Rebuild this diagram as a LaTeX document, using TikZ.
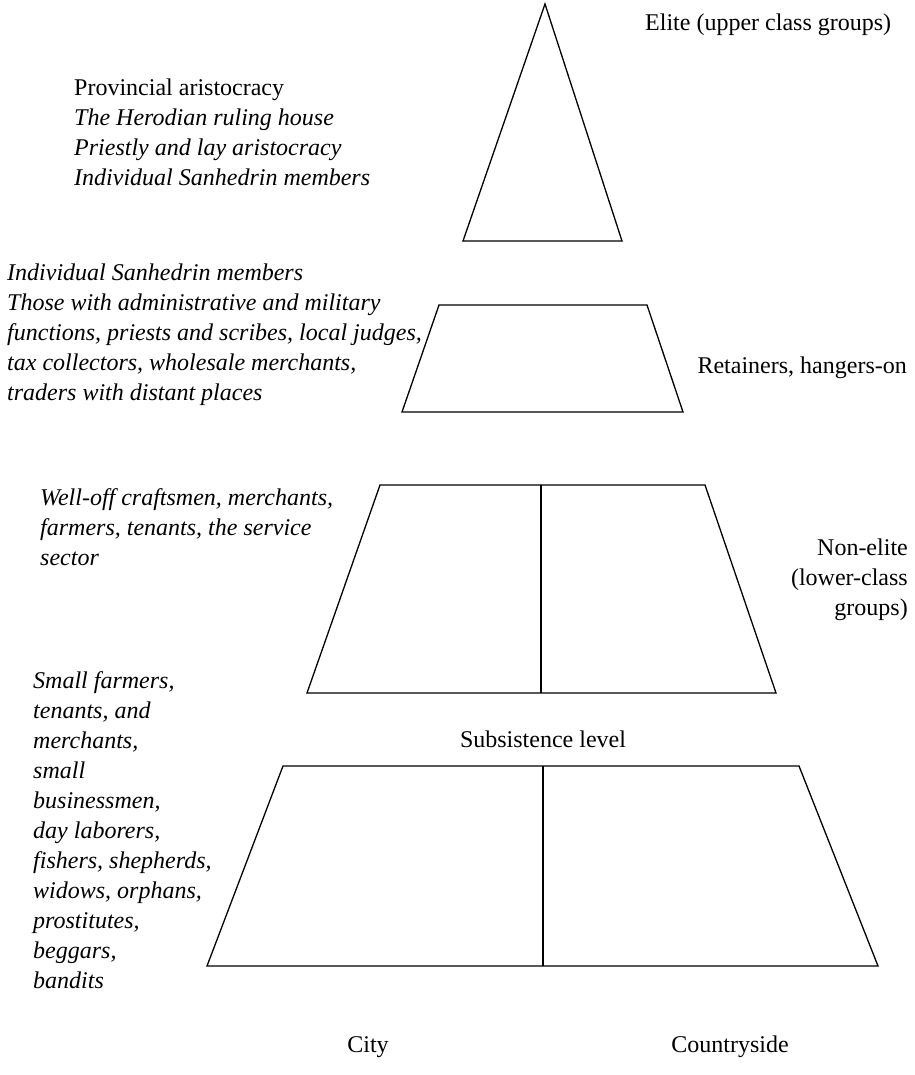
\documentclass[tikz,border=0pt]{standalone}
\usepackage{fontspec}
\setmainfont{Liberation Serif}
\begin{document}
\begin{tikzpicture}[x=1pt,y=-1pt,
  shape line/.style={draw=black,line width=1.3pt,line join=miter},
  label text/.style={font=\fontsize{24}{30}\selectfont,inner sep=0pt,align=left},
  group text/.style={font=\fontsize{24}{30}\selectfont\itshape,inner sep=0pt,align=left}]
\useasboundingbox (0,0) rectangle (914,1075);

% the four tiers of the pyramid
\draw[shape line] (545,4) -- (622,241) -- (463,241) -- cycle;
\draw[shape line] (439,305) -- (647,305) -- (683,412) -- (402,412) -- cycle;
\draw[shape line] (380,485) -- (705,485) -- (776,693) -- (307,693) -- cycle;
\draw[shape line] (541,485) -- (541,693);
\draw[shape line] (283,766) -- (799,766) -- (878,966) -- (207,966) -- cycle;
\draw[shape line] (543,766) -- (543,966);

% tier labels on the right
\node[label text,anchor=north west] (elite) at (645,14) {Elite (upper class groups)};
\node[label text,anchor=east] (retain) at (907,368) {Retainers, hangers-on};
\node[label text,anchor=north east,align=right] (nonelite) at (908,539) {Non-elite\\(lower-class\\groups)};
\node[label text,anchor=center] (subs) at (543,739) {Subsistence level};
\node[label text,anchor=center] (city) at (368,1047) {City};
\node[label text,anchor=center] (country) at (730,1047) {Countryside};

% group lists on the left
\node[group text,anchor=north west] (g1) at (74,79) {{\upshape Provincial aristocracy}\\
The Herodian ruling house\\
Priestly and lay aristocracy\\
Individual Sanhedrin members};
\node[group text,anchor=north west] (g2) at (7,264) {Individual Sanhedrin members\\
Those with administrative and military\\
functions, priests and scribes, local judges,\\
tax collectors, wholesale merchants,\\
traders with distant places};
\node[group text,anchor=north west] (g3) at (40,488) {Well-off craftsmen, merchants,\\
farmers, tenants, the service\\
sector};
\node[group text,anchor=north west] (g4) at (33,671) {Small farmers,\\
tenants, and\\
merchants,\\
small\\
businessmen,\\
day laborers,\\
fishers, shepherds,\\
widows, orphans,\\
prostitutes,\\
beggars,\\
bandits};
\end{tikzpicture}
\end{document}
